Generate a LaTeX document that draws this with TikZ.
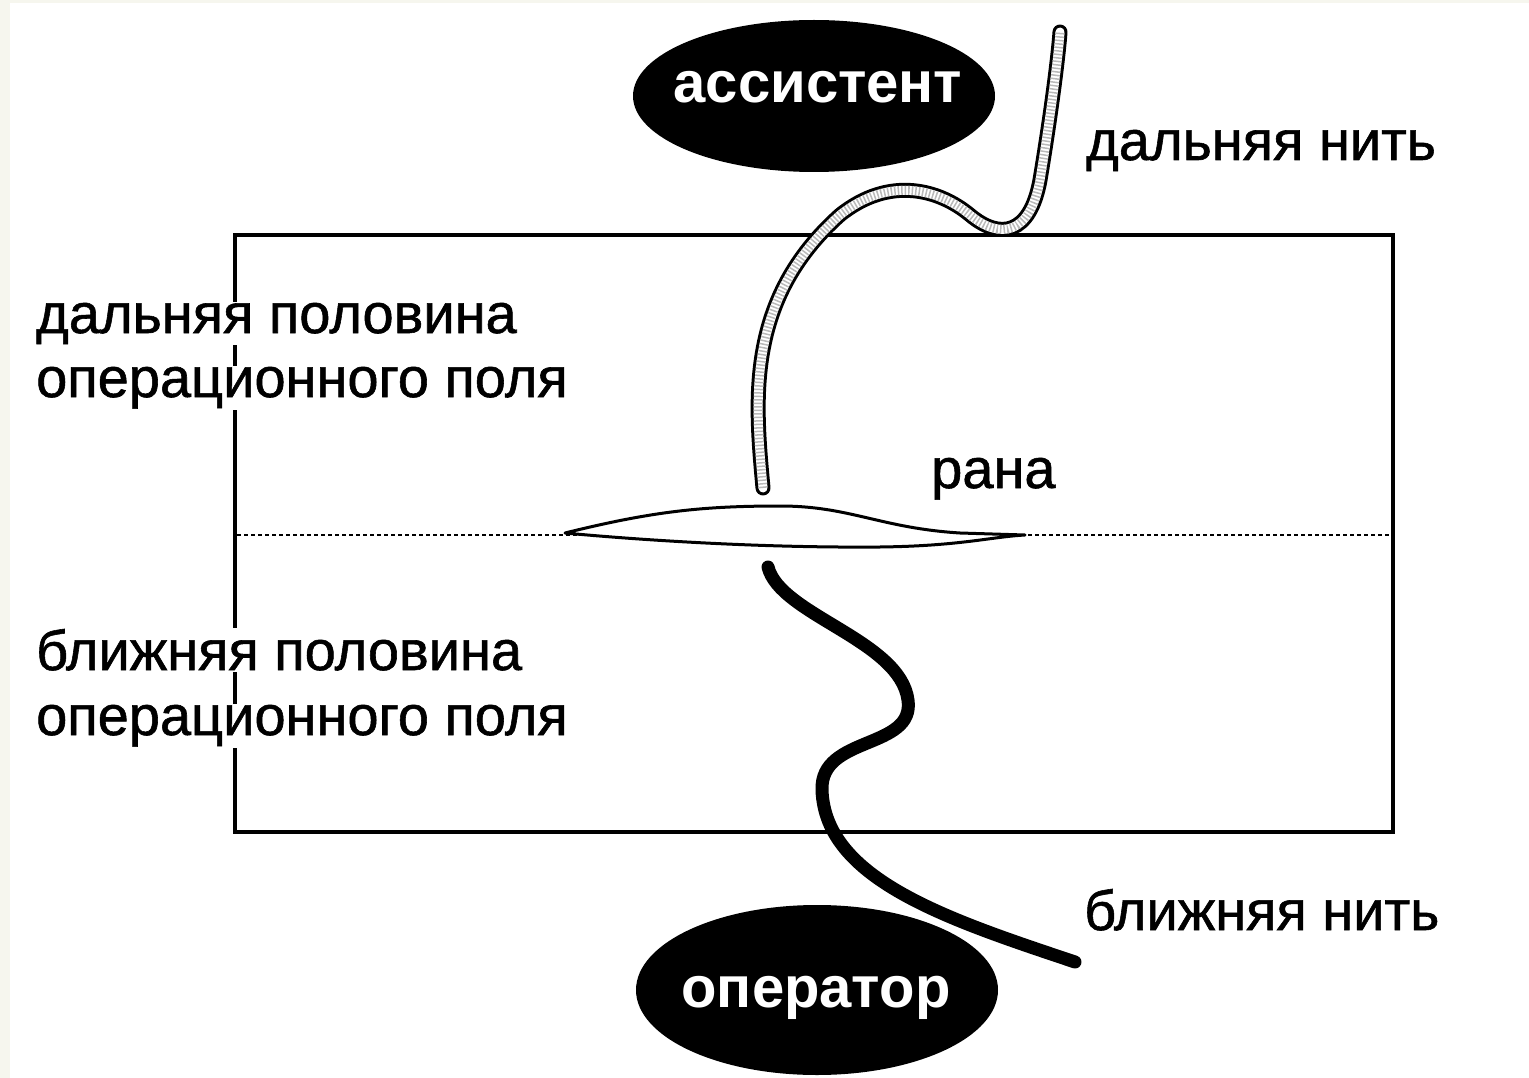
\documentclass[tikz,border=0pt]{standalone}
\usepackage{fontspec}
\setmainfont{Liberation Sans}
\newfontfamily\lblfont[FakeBold=1]{Liberation Sans}
\usetikzlibrary{shapes.geometric}
\definecolor{cream}{RGB}{246,246,238}
\tikzset{
  lbl/.style={font=\lblfont\fontsize{56}{60}\selectfont, inner sep=1pt, fill=white},
  person/.style={ellipse, fill=black, inner sep=0pt},
  personlbl/.style={text=white, font=\bfseries\fontsize{58}{60}\selectfont, inner sep=0pt, anchor=base},
  farthread/.style={line width=15pt, line cap=round},
  nearthread/.style={line width=13pt, line cap=round, black},
}
\begin{document}
\begin{tikzpicture}[x=1pt,y=-1pt]
\useasboundingbox (0,0) rectangle (1529,1078);
\fill[cream] (0,0) rectangle (1529,1078);
\fill[white] (10,3) rectangle (1529,1078);
% field
\draw[line width=3.5pt] (235,235) rectangle (1393,832);
\coordinate (dl) at (237,535);
\coordinate (dr) at (1391,535);
\draw[line width=1.5pt, dash pattern=on 4pt off 3pt] (dl) -- (dr);
% wound
\coordinate (wl) at (565,533);
\coordinate (wr) at (1025,535);
\filldraw[fill=white, line width=3pt, line join=round]
  (wl) .. controls (650,512) and (700,506) .. (780,506)
  .. controls (850,506) and (880,528) .. (960,533) -- (wr)
  .. controls (990,537) and (960,546) .. (880,547)
  .. controls (760,548) and (640,540) .. (wl) -- cycle;
% persons
\node[person, minimum width=362pt, minimum height=152pt] (assist) at (814,96) {};
\node[personlbl] (assistlbl) at (818,103) {ассистент};
\node[person, minimum width=362pt, minimum height=170pt] (oper) at (817,990) {};
\node[personlbl] (operlbl) at (816,1007) {оператор};
% far thread
\coordinate (ft0) at (763,488);
\coordinate (ft1) at (1060,32);
\draw[farthread, black] (ft0) .. controls (755,400) and (745,300) .. (840,215)
  .. controls (890,175) and (940,190) .. (970,215)
  .. controls (1000,240) and (1030,235) .. (1040,180)
  .. controls (1050,120) and (1058,60) .. (ft1);
\draw[line width=9pt, line cap=round, white] (ft0) .. controls (755,400) and (745,300) .. (840,215)
  .. controls (890,175) and (940,190) .. (970,215)
  .. controls (1000,240) and (1030,235) .. (1040,180)
  .. controls (1050,120) and (1058,60) .. (ft1);
\draw[line width=9pt, gray!55, dash pattern=on 1.5pt off 2pt] (ft0) .. controls (755,400) and (745,300) .. (840,215)
  .. controls (890,175) and (940,190) .. (970,215)
  .. controls (1000,240) and (1030,235) .. (1040,180)
  .. controls (1050,120) and (1058,60) .. (ft1);
% near thread
\coordinate (nt0) at (768,567);
\coordinate (nt1) at (1075,962);
\draw[nearthread] (nt0) .. controls (780,615) and (900,640) .. (908,700)
  .. controls (915,750) and (820,735) .. (822,790)
  .. controls (825,880) and (950,920) .. (nt1);
% labels
\node[lbl, anchor=base west] (farhalf1) at (35,333) {дальняя половина};
\node[lbl, anchor=base west] (farhalf2) at (35,397) {операционного поля};
\node[lbl, anchor=base west] (nearhalf1) at (35,670) {ближняя половина};
\node[lbl, anchor=base west] (nearhalf2) at (35,735) {операционного поля};
\node[lbl, anchor=base west] (farlbl) at (1085,160) {дальняя нить};
\node[lbl, anchor=base west] (nearlbl) at (1083,930) {ближняя нить};
\node[lbl, anchor=base west, fill=none] (wound) at (930,488) {рана};
\end{tikzpicture}
\end{document}
